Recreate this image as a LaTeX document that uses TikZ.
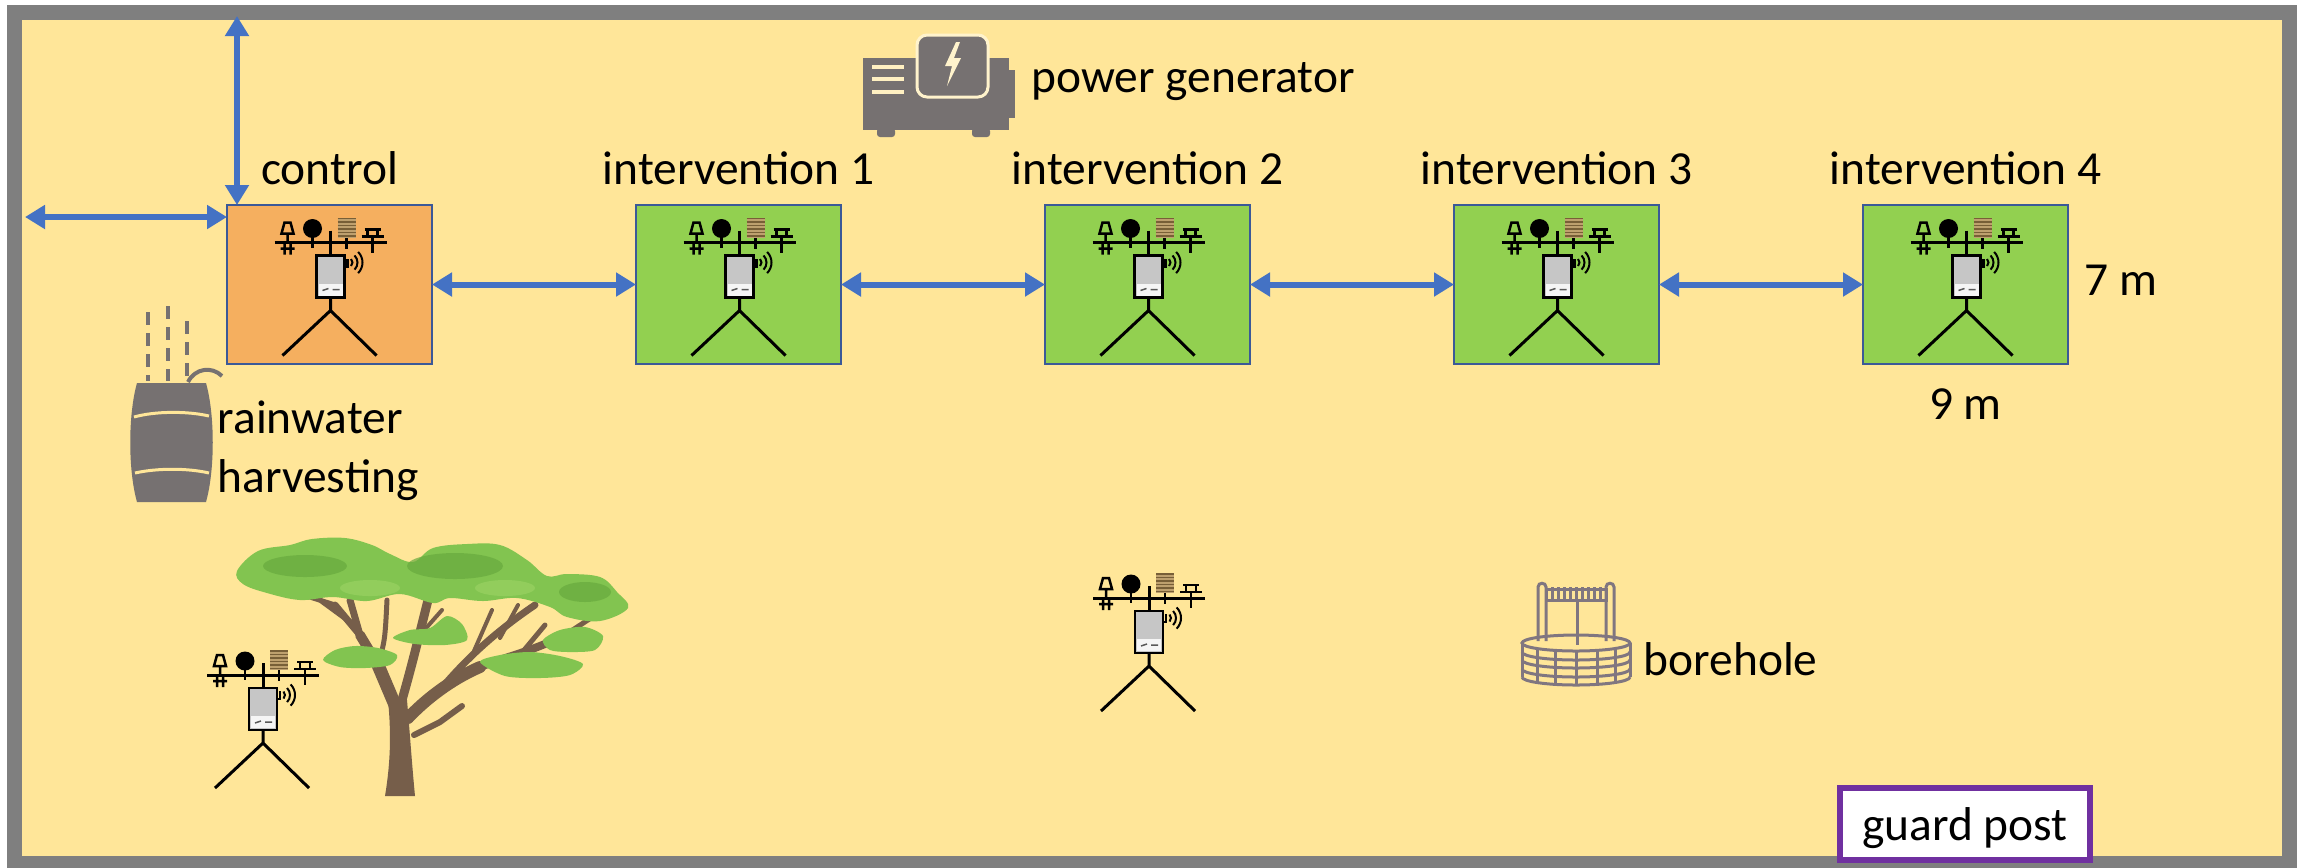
\documentclass[tikz,border=0pt]{standalone}
\usepackage{fontspec}
\setmainfont{Carlito}
\usetikzlibrary{arrows.meta,calc,positioning}
\newcommand{\boxwidth}{20.5mm}
\newcommand{\boxheight}{15.9mm}
\definecolor{siteYellow}{RGB}{255,230,153}
\definecolor{siteGray}{RGB}{127,127,127}
\definecolor{arrowBlue}{RGB}{68,114,196}
\definecolor{edgeBlue}{RGB}{59,89,152}
\definecolor{plotGreen}{RGB}{146,208,80}
\definecolor{plotOrange}{RGB}{245,175,95}
\definecolor{iconGray}{RGB}{118,113,113}
\definecolor{shieldBrown}{RGB}{120,95,55}
\definecolor{shieldLight}{RGB}{190,160,110}
\definecolor{wellGray}{RGB}{128,118,128}
\definecolor{guardPurple}{RGB}{112,48,160}
\definecolor{barkBrown}{RGB}{118,94,74}
\definecolor{leafGreen}{RGB}{130,196,80}
\definecolor{leafDark}{RGB}{104,170,62}
\definecolor{leafLight}{RGB}{150,208,96}
\tikzset{
  >={Triangle[length=2mm,width=2.3mm]},
  font=\fontsize{13.5}{14.7}\selectfont,
  node distance=20.4mm,
  plotbox/.style={draw=edgeBlue,line width=0.2mm,shape=rectangle,minimum width=\boxwidth,minimum height=\boxheight,inner sep=0,outer sep=0},
  plotname/.style={inner sep=0,text height=1.5ex,text depth=0.25ex},
  line/.style={draw=arrowBlue,<->,line width=0.6mm},
  station/.pic={
    % crossbar and mast
    \draw [line width=0.3mm] (-56,0) -- (56,0) (0,-12) -- (0,13);
    % cup anemometer on its clamp
    \draw [line width=0.25mm] (-49,-9) -- (-46,-20) -- (-40,-20) -- (-37,-9) -- cycle
      (-43,-9) -- (-43,0) (-46,0) -- (-46,12) (-40,0) -- (-40,12) (-50,6) -- (-36,6);
    % globe thermometer
    \draw [line width=0.25mm] (-18,-5) -- (-18,5);
    \fill (-18,-14) circle (9.5);
    % radiation shield
    \draw [line width=0.25mm] (16,-5) -- (16,6);
    \fill [shieldLight] (7,-25) rectangle (25,-5);
    \foreach \sy in {-24,-20.5,...,-6}
      \draw [shieldBrown,line width=0.17mm] (7,\sy) -- (25,\sy);
    % rain gauge
    \draw [line width=0.25mm] (34,-13) -- (50,-13) (37,-13) -- (37,-6) (47,-13) -- (47,-6)
      (31,-6) -- (53,-6) (42,-6) -- (42,10);
    % logger with antenna
    \draw [line width=0.25mm,fill=gray!45] (-14,13) rectangle (14,55);
    \fill [gray!8] (-12,41) rectangle (12,53);
    \draw [gray!70!black,line width=0.15mm] (-8,48) -- (-2,46) (2,47) -- (9,47);
    \draw [line width=0.25mm] (14,24) -- (17,24) -- (17,16);
    \foreach \rad in {5,10,15}
      \draw [line width=0.2mm] (17,20) ++(-45:\rad) arc [start angle=-45,end angle=45,radius=\rad];
    % tripod
    \draw [line width=0.3mm] (0,55) -- (0,68) (-48,113) -- (0,68) -- (46,113);
  },
}

\begin{document}
\begin{tikzpicture}[x=0.1mm,y=-0.1mm]
  \useasboundingbox (0,0) rectangle (2305,867);
  % fence round the site
  \draw [siteGray,line width=1.5mm,fill=siteYellow] (14.5,12.5) rectangle (2289,863.5);

  % plots
  \node (control) [plotbox,fill=plotOrange] at (329.5,284.5) {};
  \node (int1) [plotbox,fill=plotGreen,right=of control] {};
  \node (int2) [plotbox,fill=plotGreen,right=of int1] {};
  \node (int3) [plotbox,fill=plotGreen,right=of int2] {};
  \node (int4) [plotbox,fill=plotGreen,right=of int3] {};
  \foreach \p in {control,int1,int2,int3,int4}
    \pic at ($(\p)+(1,-42)$) {station};

  \node (controlname) [plotname,above=1.6mm of control] {control};
  \node (int1name) [plotname,above=1.6mm of int1] {intervention 1};
  \node (int2name) [plotname,above=1.6mm of int2] {intervention 2};
  \node (int3name) [plotname,above=1.6mm of int3] {intervention 3};
  \node (int4name) [plotname,above=1.6mm of int4] {intervention 4};
  \node (plotdepth) [plotname,right=1.6mm of int4] {7 m};
  \node (plotwidth) [plotname,below=3mm of int4] {9 m};

  % connections
  \coordinate (northgate) at (237,16);
  \coordinate (westgate) at (25,217);
  \path [line] (northgate) -- (northgate |- control.north);
  \path [line] (westgate) -- (westgate -| control.west);
  \path [line] (control) -- (int1);
  \path [line] (int1) -- (int2);
  \path [line] (int2) -- (int3);
  \path [line] (int3) -- (int4);

  % generator
  \fill [iconGray] (863,58) rectangle (1009,130);
  \fill [iconGray] (1009,70) rectangle (1015,118);
  \fill [iconGray,rounded corners=0.3mm] (877,128) rectangle (895,137) (972,128) rectangle (990,137);
  \draw [siteYellow!50!white,line width=0.3mm,fill=iconGray,rounded corners=1mm] (917,35) rectangle (988,97);
  \foreach \gy in {67,79,92}
    \draw [siteYellow!60!white,line width=0.35mm] (872,\gy) -- (904,\gy);
  \fill [siteYellow!50!white] (956,42) -- (945,66) -- (952,66) -- (947,86) -- (961,58) -- (954,58) -- (960,42) -- cycle;
  \node (power) [anchor=base west,inner sep=0] at (1031,92) {power generator};

  % rain barrel
  \foreach \dx/\dy in {148/312,168/306,187/321}
    \draw [iconGray,line width=0.4mm,dash pattern=on 1.3mm off 0.8mm] (\dx,\dy) -- (\dx,381);
  \draw [iconGray,line width=0.4mm] (188,382) .. controls (195,368) and (212,366) .. (222,376);
  \fill [iconGray] (137,383) -- (206,383) .. controls (215,415) and (215,470) .. (206,502)
    -- (137,502) .. controls (128,470) and (128,415) .. (137,383) -- cycle;
  \draw [siteYellow,line width=0.3mm] (134,417) .. controls (155,411) and (188,411) .. (209,416)
    (135,473) .. controls (157,468) and (188,468) .. (209,473);
  \node (rain) [anchor=north west,align=left,inner sep=0,font=\fontsize{13.5}{16.8}\selectfont]
    at (217,400) {rainwater\\harvesting};

  % acacia: branches first, then the flat crown
  \begin{scope}[barkBrown,line cap=round]
    \fill (385,796) .. controls (391,760) and (391,730) .. (388,700) -- (407,700)
      .. controls (410,735) and (412,765) .. (415,796) -- cycle;
    \draw [line width=1.3mm] (395,705) -- (378,665);
    \draw [line width=1.0mm] (378,665) -- (360,635);
    \draw [line width=0.7mm] (360,635) -- (335,605) (360,635) -- (350,600);
    \draw [line width=0.5mm] (378,665) .. controls (385,640) .. (387,600) (335,605) -- (310,597)
      (350,622) -- (320,600);
    \draw [line width=0.9mm] (402,700) .. controls (412,665) and (418,640) .. (428,600);
    \draw [line width=0.4mm] (420,635) -- (442,610);
    \draw [line width=1.2mm] (408,718) .. controls (425,700) and (450,680) .. (480,667);
    \draw [line width=0.8mm] (480,667) .. controls (505,657) and (530,652) .. (565,635);
    \draw [line width=0.5mm] (565,635) -- (600,612) (520,655) -- (545,625);
    \draw [line width=0.7mm] (440,690) .. controls (465,660) and (495,632) .. (535,605);
    \draw [line width=0.4mm] (470,660) -- (492,610) (500,638) -- (518,605);
    \draw [line width=0.6mm] (414,735) -- (440,722) -- (462,706);
  \end{scope}
  \fill [leafGreen] plot [smooth cycle,tension=0.6] coordinates {
    (237,571) (258,551) (290,545) (312,539) (345,538) (372,545) (390,554) (413,562) (433,548)
    (467,544) (500,545) (527,560) (547,576) (567,574) (600,577) (617,592) (628,608)
    (600,621) (567,617) (550,607) (517,598) (483,601) (450,598) (433,603) (400,594)
    (367,601) (333,597) (300,600) (267,593) (243,584)};
  \fill [leafDark,opacity=0.7] (305,566) ellipse [x radius=42,y radius=11]
    (455,566) ellipse [x radius=48,y radius=13]
    (585,592) ellipse [x radius=26,y radius=10];
  \fill [leafLight,opacity=0.8] (370,588) ellipse [x radius=30,y radius=8]
    (505,588) ellipse [x radius=30,y radius=8];
  \fill [leafGreen] plot [smooth cycle] coordinates {
    (323,660) (335,650) (355,646) (378,648) (397,655) (390,665) (365,668) (340,667)};
  \fill [leafGreen] plot [smooth cycle] coordinates {
    (393,638) (410,630) (430,628) (447,616) (462,624) (467,640) (445,645) (415,644)};
  \fill [leafGreen] plot [smooth cycle] coordinates {
    (480,662) (500,655) (530,652) (560,656) (583,664) (570,675) (540,678) (505,676)};
  \fill [leafGreen] plot [smooth cycle] coordinates {
    (543,640) (560,630) (585,627) (603,636) (595,650) (570,652) (550,650)};
  \pic at (263,675) {station};

  % field station
  \pic at (1149,598) {station};

  % borehole
  \begin{scope}[wellGray,line width=0.3mm]
    \draw (1538,641) -- (1538,587) .. controls (1538,582) and (1546,582) .. (1546,587) -- (1546,641);
    \draw (1606,641) -- (1606,587) .. controls (1606,582) and (1614,582) .. (1614,587) -- (1614,641);
    \draw (1546,589) rectangle (1606,600);
    \foreach \tx in {1552,1558,...,1600}
      \draw (\tx,587) -- (\tx,602);
    \draw (1577,600) -- (1577,645);
    \draw (1576,643) ellipse [x radius=54,y radius=8];
    \draw (1522,643) -- (1522,677) (1630,643) -- (1630,677);
    \foreach \by in {652,660,669,677}
      \draw (1522,\by) arc [start angle=180,end angle=0,x radius=54,y radius=8];
    \foreach \tx/\ty in {1537/648.5,1555/650.4,1576/651,1597/650.4,1615/648.5}
      \draw (\tx,\ty) -- (\tx,\ty+34);
  \end{scope}
  \node (borehole) [anchor=base west,inner sep=0] at (1643,675) {borehole};

  % guard post
  \node (guard) [draw=guardPurple,line width=0.6mm,fill=white,minimum width=25mm,minimum height=7.2mm,
    inner sep=0,text height=2.2ex,text depth=0.25ex] at (1965,824) {guard post};
\end{tikzpicture}
\end{document}
